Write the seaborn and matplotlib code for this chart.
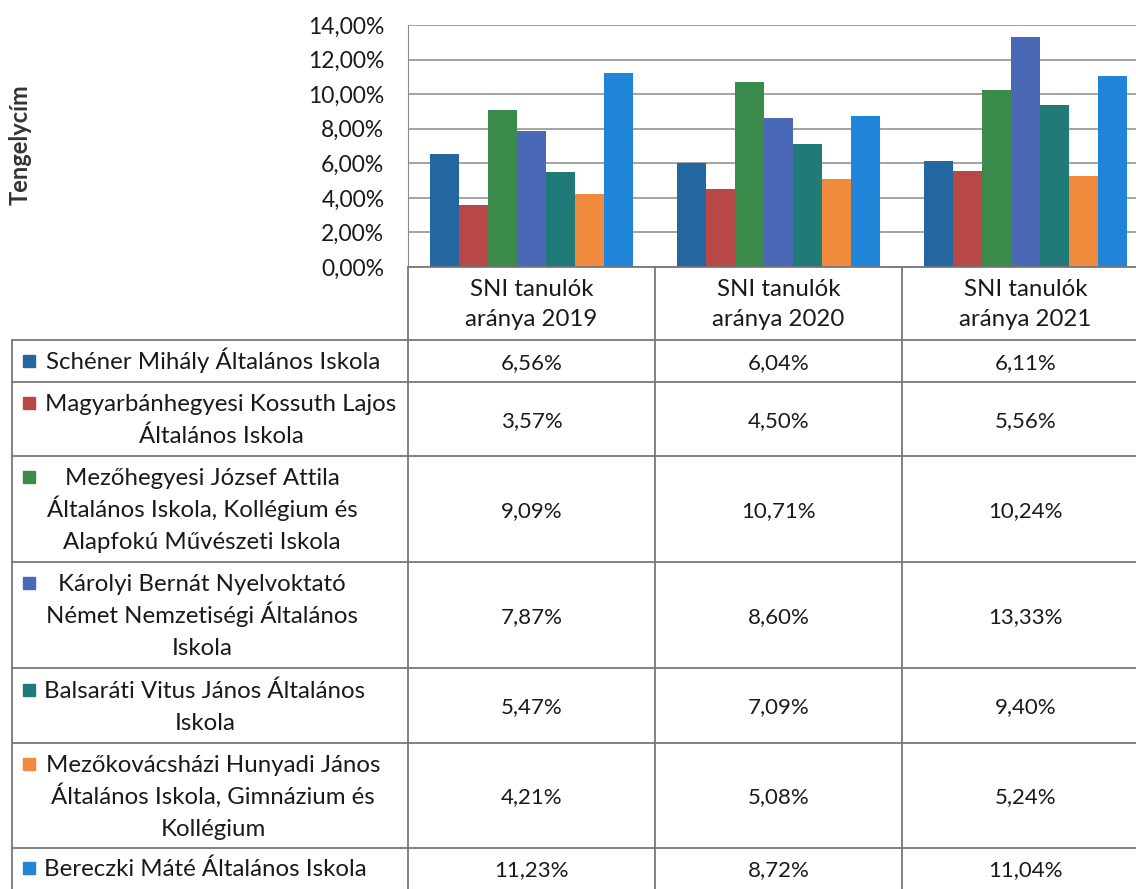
import numpy as np
import pandas as pd
import matplotlib.pyplot as plt
import seaborn as sns
from matplotlib.patches import Rectangle

# Iskolák (sorok / sorozatok)
schools = [
    "Schéner Mihály Általános Iskola",
    "Magyarbánhegyesi Kossuth Lajos\nÁltalános Iskola",
    "Mezőhegyesi József Attila\nÁltalános Iskola, Kollégium és\nAlapfokú Művészeti Iskola",
    "Károlyi Bernát Nyelvoktató\nNémet Nemzetiségi Általános\nIskola",
    "Balsaráti Vitus János Általános\nIskola",
    "Mezőkovácsházi Hunyadi János\nÁltalános Iskola, Gimnázium és\nKollégium",
    "Bereczki Máté Általános Iskola",
]
years = ["SNI tanulók\naránya 2019", "SNI tanulók\naránya 2020", "SNI tanulók\naránya 2021"]

v2019 = [6.56, 3.57, 9.09, 7.87, 5.47, 4.21, 11.23]
v2020 = [6.04, 4.50, 10.71, 8.60, 7.09, 5.08, 8.72]
v2021 = [6.11, 5.56, 10.24, 13.33, 9.40, 5.24, 11.04]

colors = ["#2467a0", "#b84848", "#3a8a4c", "#4a68b6", "#1f7a78", "#f08a3c", "#2084d8"]

rows = []
for yr, vals in zip(years, [v2019, v2020, v2021]):
    for s, v in zip(schools, vals):
        rows.append({"ev": yr, "iskola": s, "arany": v})
df = pd.DataFrame(rows)

sns.set_style("white")
plt.rcParams["font.family"] = ["Lato", "DejaVu Sans"]

W, H = 1136, 889
fig = plt.figure(figsize=(W / 100, H / 100), dpi=100)

# diagram terület (pixelben megadva)
left, right, top, bottom = 408, 1149, 25, 267
ax = fig.add_axes([left / W, 1 - bottom / H, (right - left) / W, (bottom - top) / H])
sns.barplot(data=df, x="ev", y="arany", hue="iskola", hue_order=schools,
            palette=colors, saturation=1, width=0.82, gap=0, ax=ax,
            legend=False, linewidth=0)
ax.set_xlim(-0.5, 2.5)
ax.set_ylim(0, 14)
ax.set_yticks(np.arange(0, 15, 2))
ax.set_yticklabels([f"{t:.2f}%".replace(".", ",") for t in np.arange(0, 15, 2)],
                   fontsize=16.5, color="#1a1a1a")
ax.tick_params(axis="y", length=0, pad=17)
ax.set_xticks([])
ax.set_xlabel("")
ax.set_ylabel("")
ax.yaxis.grid(True, color="#8a8a8a", linewidth=1.1)
ax.set_axisbelow(True)
for sp in ["top", "right", "bottom"]:
    ax.spines[sp].set_visible(False)
ax.spines["left"].set_color("#8a8a8a")

fig.text(20 / W, 1 - 145 / H, "Tengelycím", rotation=90, fontsize=17,
         fontweight="bold", color="#333333", ha="center", va="center")

# táblázat rajzolása átfedő tengelyen
fig.canvas.draw()
tab = fig.add_axes([0, 0, 1, 1])
tab.set_xlim(0, W)
tab.set_ylim(H, 0)
tab.axis("off")

def px(xd):
    return ax.transData.transform((xd, 0))[0]

col_centers = [px(i) for i in range(3)]
col_edges = [px(i - 0.5) for i in range(4)]
row_lines = [340, 382, 456, 562, 668, 743, 848]
row_bottoms = row_lines[1:] + [889]
label_cx = [213, 221, 202, 202, 205, 213, 205]
line_c = "#777777"
txt_c = "#1a1a1a"
fs_lab = 17.3
fs_val = 16
base_off = 8  # sor középvonal -> alapvonal távolság (px)

def multiline(x, yc, s, lh, fs):
    lines = s.split("\n")
    n = len(lines)
    for k, ln in enumerate(lines):
        tab.text(x, yc + (k - (n - 1) / 2) * lh + base_off, ln, ha="center",
                 va="baseline", fontsize=fs, color=txt_c)
    return yc - (n - 1) / 2 * lh

# vízszintes vonalak
tab.plot([col_edges[0], W], [bottom, bottom], color=line_c, lw=1.3)
for y in row_lines:
    tab.plot([12, W], [y, y], color=line_c, lw=1.3)
# függőleges vonalak
for x in col_edges[:3]:
    tab.plot([x, x], [bottom, H], color=line_c, lw=1.3)
tab.plot([12, 12], [row_lines[0], H], color=line_c, lw=1.3)

# fejléc
for cx, yr in zip(col_centers, years):
    multiline(cx, (bottom + row_lines[0]) / 2, yr, 30, fs_lab)

for i, s in enumerate(schools):
    y0, y1 = row_lines[i], row_bottoms[i]
    yc = (y0 + y1) / 2 if i < 6 else 868
    first_y = multiline(label_cx[i], yc, s, 32, fs_lab)
    tab.add_patch(Rectangle((23, first_y - 6), 12, 12, color=colors[i]))
    for cx, vals in zip(col_centers, [v2019, v2020, v2021]):
        tab.text(cx, yc + base_off, f"{vals[i]:.2f}%".replace(".", ","), ha="center",
                 va="baseline", fontsize=fs_val, color=txt_c)

fig.savefig("out.png", dpi=100)
